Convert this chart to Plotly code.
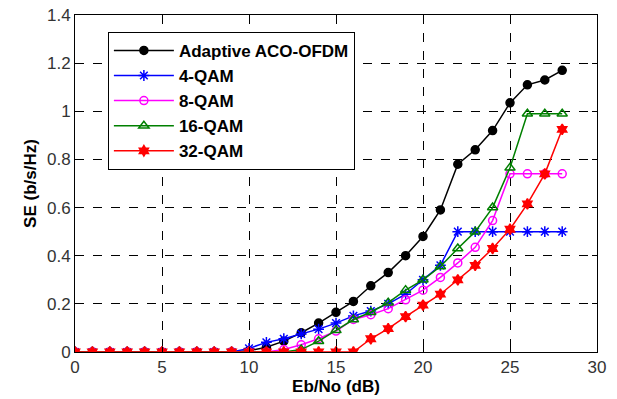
import plotly.graph_objects as go

x = list(range(0, 29))

adaptive = [0]*10 + [0.005, 0.02, 0.045, 0.08, 0.12, 0.165, 0.21, 0.275, 0.33, 0.40, 0.48, 0.59, 0.78, 0.84, 0.92, 1.035, 1.11, 1.13, 1.17]
qam4 = [0]*10 + [0.015, 0.04, 0.055, 0.075, 0.095, 0.12, 0.15, 0.17, 0.20, 0.24, 0.30, 0.36, 0.50, 0.50, 0.50, 0.50, 0.50, 0.50, 0.50]
qam8 = [0]*12 + [0.01, 0.03, 0.055, 0.087, 0.135, 0.155, 0.18, 0.217, 0.257, 0.31, 0.37, 0.435, 0.546, 0.74, 0.74, 0.74, 0.74]
qam16 = [0]*13 + [0.01, 0.045, 0.09, 0.135, 0.165, 0.205, 0.257, 0.30, 0.355, 0.43, 0.50, 0.60, 0.765, 0.99, 0.99, 0.99]
qam32 = [0]*17 + [0.055, 0.097, 0.147, 0.195, 0.24, 0.30, 0.36, 0.43, 0.51, 0.615, 0.74, 0.925]

names = ["Adaptive ACO-OFDM", "4-QAM", "8-QAM", "16-QAM", "32-QAM"]
colors = ["black", "blue", "magenta", "green", "red"]
symbols = ["circle", "asterisk-open", "circle-open", "triangle-up-open", "hexagram"]
sizes = [8, 9, 8, 9, 8]
series = [adaptive, qam4, qam8, qam16, qam32]

xticks = [0, 5, 10, 15, 20, 25, 30]
yticks = [0, 0.2, 0.4, 0.6, 0.8, 1.0, 1.2, 1.4]
ytick_text = ["0", "0.2", "0.4", "0.6", "0.8", "1", "1.2", "1.4"]

fig = go.Figure()
for name, c, s, sz, y in zip(names, colors, symbols, sizes, series):
    fig.add_trace(go.Scatter(
        x=x, y=y, name="<b>" + name + "</b>", mode="lines+markers",
        line=dict(color=c, width=1.5),
        marker=dict(symbol=s, size=sz, color=c, line=dict(color=c, width=1.5)),
    ))

axis_common = dict(
    showgrid=True, gridcolor="black", griddash="dash", gridwidth=1,
    showline=True, linecolor="black", linewidth=1, mirror="ticks",
    ticks="inside", ticklen=5, tickcolor="black",
    zeroline=False, automargin=False,
    tickfont=dict(family="Arial", size=17, color="#333333"),
)
fig.update_xaxes(range=[0, 30], tickvals=xticks, **axis_common,
                 title=dict(text="<b>Eb/No (dB)</b>", font=dict(family="Arial", size=17, color="black"), standoff=0))
fig.update_yaxes(range=[0, 1.4], tickvals=yticks, ticktext=ytick_text, **axis_common,
                 title=dict(text="<b>SE (b/s/Hz)</b>", font=dict(family="Arial", size=17, color="black"), standoff=6))

fig.update_layout(
    width=617, height=399,
    margin=dict(l=75, r=20, t=15, b=47),
    plot_bgcolor="white", paper_bgcolor="white",
    legend=dict(x=0.063, y=0.95, xanchor="left", yanchor="top",
                bgcolor="white", bordercolor="black", borderwidth=1,
                font=dict(family="Arial", size=17, color="black"),
                itemwidth=60, tracegroupgap=0),
    font=dict(family="Arial"),
)

fig.write_html("out.html")
